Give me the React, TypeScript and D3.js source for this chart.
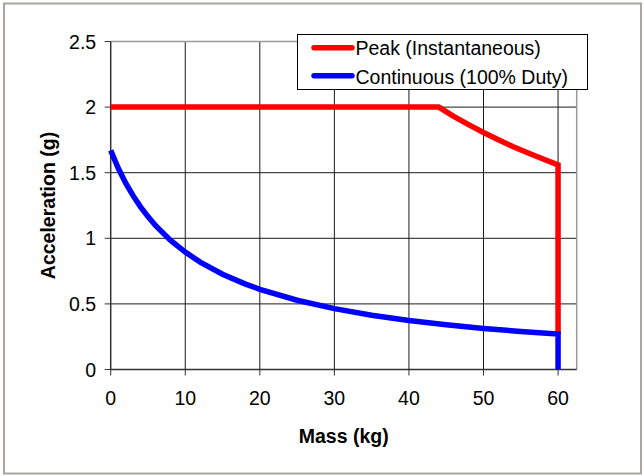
import React, { useRef, useEffect } from 'react';
import * as d3 from 'd3';

// Peak (Instantaneous) curve
const peakMass = [0, 44, 46, 48, 50, 52, 54, 56, 58, 60, 60];
const peakAccel = [2.0, 2.0, 1.93, 1.866, 1.806, 1.751, 1.698, 1.65, 1.604, 1.56, 0.27];

// Continuous (100% Duty) curve
const contMass = [0, 1, 2, 3, 4, 5, 6, 8, 10, 12, 15, 18, 20, 25, 30, 35, 40, 45, 50, 55, 60, 60];
const contAccel = [1.67, 1.535, 1.422, 1.325, 1.24, 1.165, 1.098, 0.986, 0.895, 0.819, 0.726, 0.653,
  0.611, 0.528, 0.464, 0.414, 0.374, 0.341, 0.313, 0.29, 0.27, 0];

const xTicks = [0, 10, 20, 30, 40, 50, 60];
const yTicks = [0, 0.5, 1, 1.5, 2, 2.5];
const yTickLabels = ['0', '0.5', '1', '1.5', '2', '2.5'];

const seriesNames = ['Peak (Instantaneous)', 'Continuous (100% Duty)'];
const seriesColors = ['#ff0000', '#0000ff'];

const FONT = '"Liberation Sans", Arial, Helvetica, sans-serif';

const App: React.FC = () => {
  const svgRef = useRef<SVGSVGElement>(null);

  useEffect(() => {
    if (!svgRef.current) return;
    const width = 644;
    const height = 476;

    const svg = d3.select(svgRef.current);
    svg.selectAll('*').remove();
    svg.attr('width', width).attr('height', height);

    // Plot area
    const x = d3.scaleLinear().domain([0, 62.5]).range([110.7, 576.7]);
    const y = d3.scaleLinear().domain([0, 2.5]).range([369.5, 41.5]);
    const [x0, x1] = x.range();
    const [y0, y1] = y.range();

    // Background and outer frame
    svg.append('rect')
      .attr('x', 0).attr('y', 0).attr('width', width).attr('height', height)
      .attr('fill', '#ffffff');
    svg.append('rect')
      .attr('x', 4).attr('y', 3.5).attr('width', 637).attr('height', 470)
      .attr('fill', 'none')
      .attr('stroke', '#aaa69e')
      .attr('stroke-width', 2);

    // Gridlines
    svg.append('g')
      .selectAll('line')
      .data(yTicks.filter(d => d > 0 && d < 2.5))
      .enter()
      .append('line')
      .attr('x1', x0).attr('x2', x1)
      .attr('y1', d => y(d)).attr('y2', d => y(d))
      .attr('stroke', '#1a1a1a')
      .attr('stroke-width', 1);

    svg.append('g')
      .selectAll('line')
      .data(xTicks.filter(d => d > 0))
      .enter()
      .append('line')
      .attr('x1', d => x(d)).attr('x2', d => x(d))
      .attr('y1', y0).attr('y2', y1)
      .attr('stroke', '#1a1a1a')
      .attr('stroke-width', 1);

    // Top and right border of the plot area
    svg.append('path')
      .attr('d', `M${x0},${y1}H${x1}V${y0}`)
      .attr('fill', 'none')
      .attr('stroke', '#999999')
      .attr('stroke-width', 1.5);

    // Axes lines
    svg.append('line')
      .attr('x1', x0).attr('x2', x0).attr('y1', y0).attr('y2', y1)
      .attr('stroke', '#333333').attr('stroke-width', 1.5);
    svg.append('line')
      .attr('x1', x0).attr('x2', x1).attr('y1', y0).attr('y2', y0)
      .attr('stroke', '#333333').attr('stroke-width', 1.5);

    // Tick marks
    svg.append('g')
      .selectAll('line')
      .data(yTicks)
      .enter()
      .append('line')
      .attr('x1', x0 - 6).attr('x2', x0)
      .attr('y1', d => y(d)).attr('y2', d => y(d))
      .attr('stroke', '#333333').attr('stroke-width', 1);
    svg.append('g')
      .selectAll('line')
      .data(xTicks)
      .enter()
      .append('line')
      .attr('x1', d => x(d)).attr('x2', d => x(d))
      .attr('y1', y0).attr('y2', y0 + 6)
      .attr('stroke', '#333333').attr('stroke-width', 1);

    // Tick labels
    svg.append('g')
      .selectAll('text')
      .data(yTicks)
      .enter()
      .append('text')
      .attr('x', x0 - 14.5)
      .attr('y', d => y(d))
      .attr('dy', '0.36em')
      .attr('text-anchor', 'end')
      .attr('font-family', FONT)
      .attr('font-size', '19.5px')
      .attr('fill', '#000')
      .text((d, i) => yTickLabels[i]);

    svg.append('g')
      .selectAll('text')
      .data(xTicks)
      .enter()
      .append('text')
      .attr('x', d => x(d))
      .attr('y', 405)
      .attr('text-anchor', 'middle')
      .attr('font-family', FONT)
      .attr('font-size', '19.5px')
      .attr('fill', '#000')
      .text(d => d.toString());

    // Axis titles
    svg.append('text')
      .attr('x', (x0 + x1) / 2)
      .attr('y', 443)
      .attr('text-anchor', 'middle')
      .attr('font-family', FONT)
      .attr('font-size', '19.5px')
      .attr('font-weight', 'bold')
      .attr('fill', '#000')
      .text('Mass (kg)');

    svg.append('text')
      .attr('transform', `translate(55, ${(y0 + y1) / 2}) rotate(-90)`)
      .attr('text-anchor', 'middle')
      .attr('font-family', FONT)
      .attr('font-size', '19.5px')
      .attr('font-weight', 'bold')
      .attr('fill', '#000')
      .text('Acceleration (g)');

    // Series
    const line = d3.line<[number, number]>()
      .x(d => x(d[0]))
      .y(d => y(d[1]))
      .curve(d3.curveLinear);

    const peak: [number, number][] = peakMass.map((m, i) => [m, peakAccel[i]]);
    const cont: [number, number][] = contMass.map((m, i) => [m, contAccel[i]]);

    [peak, cont].forEach((pts, i) => {
      svg.append('path')
        .attr('d', line(pts) as string)
        .attr('fill', 'none')
        .attr('stroke', seriesColors[i])
        .attr('stroke-width', 5.5)
        .attr('stroke-linejoin', 'miter')
        .attr('stroke-linecap', 'butt');
    });

    // Legend
    const legend = svg.append('g');
    legend.append('rect')
      .attr('x', 297.5).attr('y', 34.5).attr('width', 290).attr('height', 55)
      .attr('fill', '#ffffff')
      .attr('stroke', '#000000')
      .attr('stroke-width', 1);

    const legendRows = [47.7, 75.7];
    seriesNames.forEach((name, i) => {
      legend.append('line')
        .attr('x1', 314).attr('x2', 352)
        .attr('y1', legendRows[i]).attr('y2', legendRows[i])
        .attr('stroke', seriesColors[i])
        .attr('stroke-width', 5.5)
        .attr('stroke-linecap', 'round');
      legend.append('text')
        .attr('x', 355.5)
        .attr('y', legendRows[i] + 7.3 + i * 1.3)
        .attr('font-family', FONT)
        .attr('font-size', '19.5px')
        .attr('fill', '#000')
        .text(name);
    });
  }, []);

  return (
    <div style={{ position: 'absolute', left: 0, top: 0, width: 644, height: 476, background: '#fff' }}>
      <svg ref={svgRef} style={{ display: 'block' }} />
    </div>
  );
};

export default App;
